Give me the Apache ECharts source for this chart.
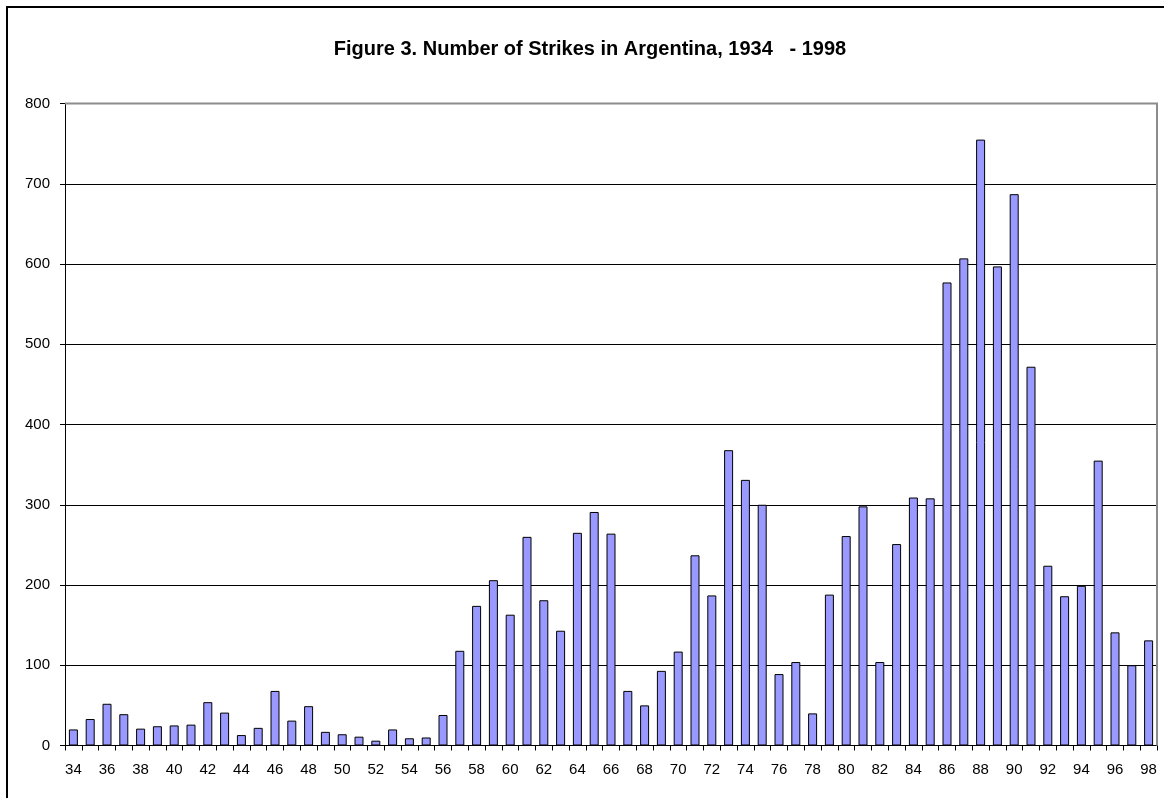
<!DOCTYPE html>
<html>
<head>
<meta charset="utf-8">
<script src="https://cdn.jsdelivr.net/npm/echarts@6/dist/echarts.min.js"></script>
<style>
  html, body { margin: 0; padding: 0; background: #fff; }
  #chart { width: 1164px; height: 798px; }
</style>
</head>
<body>
<div id="chart"></div>
<script type="text/javascript">
    // years 1934 - 1998, shown as two digits
    var years = [];
    for (var y = 34; y <= 98; y++) years.push(String(y));

    var strikes = [
        20, 33, 52, 39, 21, 24, 25, 26, 54, 41,
        13, 22, 68, 31, 49, 17, 14, 11, 6, 20,
        9, 10, 38, 118, 174, 206, 163, 260, 181, 143,
        265, 291, 264, 68, 50, 93, 117, 237, 187, 368,
        331, 300, 89, 104, 40, 188, 261, 298, 104, 251,
        309, 308, 577, 607, 755, 597, 687, 472, 224, 186,
        199, 355, 141, 100, 131
    ];

    var yTicks = [0, 100, 200, 300, 400, 500, 600, 700, 800];

    var chart = echarts.init(document.getElementById('chart'));

    var option = {
        animation: false,
        backgroundColor: '#fff',
        title: {
            text: 'Figure 3. Number of Strikes in Argentina, 1934   - 1998',
            left: 585,
            top: 34,
            textAlign: 'center',
            textStyle: {
                fontFamily: 'Liberation Sans, Arial, sans-serif',
                fontSize: 20,
                fontWeight: 'bold',
                color: '#000'
            }
        },
        graphic: [
            {
                type: 'rect',
                shape: { x: 7, y: 7, width: 1180, height: 820 },
                style: { fill: 'none', stroke: '#000', lineWidth: 2 },
                z: 0
            },
            {
                type: 'polyline',
                shape: { points: [[65, 103.5], [1157, 103.5], [1157, 745.5]] },
                style: { stroke: '#8c8c8c', lineWidth: 2, fill: 'none' },
                z: 1
            }
        ],
        grid: {
            left: 65,
            right: 7,
            top: 103.5,
            bottom: 52.5,
            containLabel: false
        },
        xAxis: {
            type: 'category',
            data: years,
            boundaryGap: true,
            axisLine: { lineStyle: { color: '#000', width: 1 } },
            axisTick: {
                show: true,
                interval: 0,
                length: 5,
                lineStyle: { color: '#000' }
            },
            axisLabel: {
                interval: 1,
                margin: 17,
                color: '#000',
                fontFamily: 'Liberation Sans, Arial, sans-serif',
                fontSize: 15
            }
        },
        yAxis: {
            type: 'value',
            min: yTicks[0],
            max: yTicks[yTicks.length - 1],
            interval: 100,
            axisLine: { show: true, lineStyle: { color: '#000' } },
            axisTick: { show: true, length: 5, lineStyle: { color: '#000' } },
            axisLabel: {
                margin: 15,
                color: '#000',
                fontFamily: 'Liberation Sans, Arial, sans-serif',
                fontSize: 15
            },
            splitLine: { show: true, lineStyle: { color: '#000', width: 1 } }
        },
        series: [
            {
                type: 'bar',
                data: strikes,
                barWidth: 9,
                itemStyle: {
                    color: '#9999ff',
                    borderColor: '#000',
                    borderWidth: 1
                },
                z: 3
            }
        ]
    };

    chart.setOption(option);
</script>
</body>
</html>
